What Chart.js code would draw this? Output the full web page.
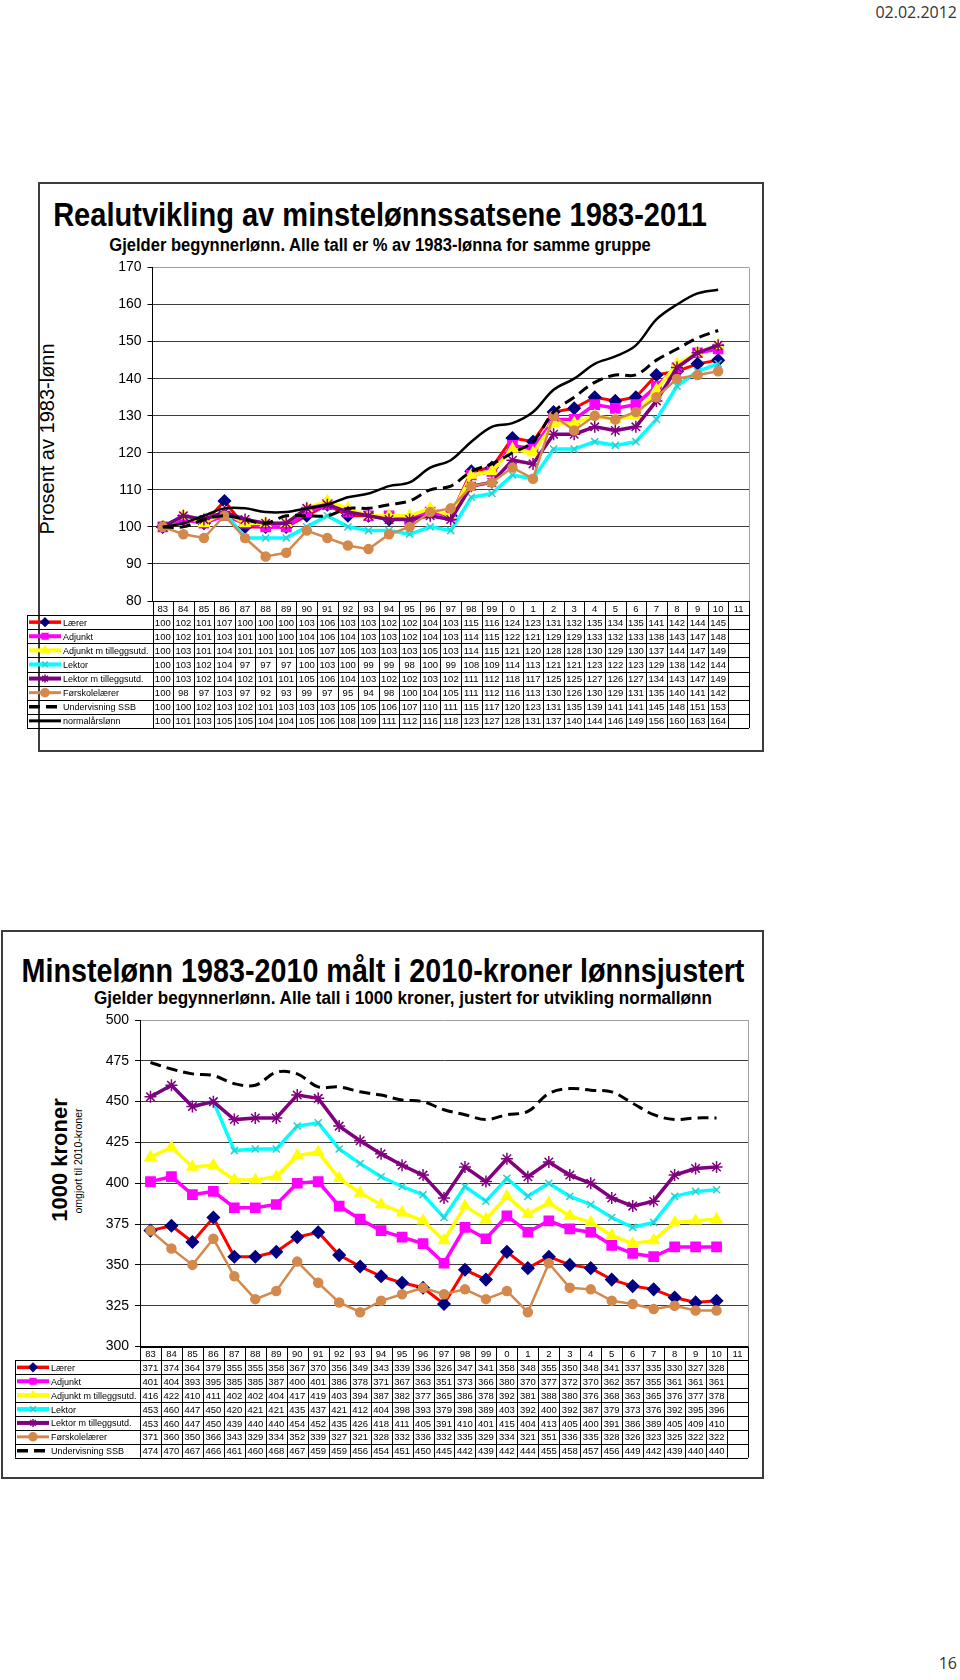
<!DOCTYPE html>
<html lang="no">
<head>
<meta charset="utf-8">
<title>Minstelønn</title>
<script src="https://cdn.jsdelivr.net/npm/chart.js@4.4.1/dist/chart.umd.min.js"></script>
<style>
  html, body { margin: 0; padding: 0; background: #fff; }
  body { position: relative; width: 960px; height: 1680px; overflow: hidden; font-family: "Liberation Sans", Arial, sans-serif; color: #000; }
  .frame { position: absolute; border: 2px solid #3c3c3c; box-sizing: border-box; }
  .title { position: absolute; white-space: nowrap; text-align: center; line-height: 1;
           font-family: "Liberation Sans Narrow", "Arial Narrow", "Liberation Sans", sans-serif; font-weight: bold; }
  .ytitle { position: absolute; white-space: nowrap; line-height: 1; transform: translate(-50%, -50%) rotate(-90deg); }
  .stamp { position: absolute; font-family: "Open Sans", sans-serif; font-size: 16px; color: #333; line-height: 1; }
  canvas { position: absolute; left: 0; }
</style>
</head>
<body>
<div class="stamp" style="right:3px; top:4px">02.02.2012</div>

<div class="frame" style="left:38px; top:182px; width:726px; height:570px"></div>
<div class="title" style="left:-100px; width:960px; top:198px; font-size:33px; transform:scaleX(0.88)">Realutvikling av minstelønnssatsene 1983-2011</div>
<div class="title" style="left:-100px; width:960px; top:236px; font-size:18px; transform:scaleX(0.92)">Gjelder begynnerlønn. Alle tall er % av 1983-lønna for samme gruppe</div>
<div class="ytitle" style="left:47px; top:439px; font-size:20px">Prosent av 1983-lønn</div>
<canvas id="chart1" width="770" height="490" style="top:250px"></canvas>

<div class="frame" style="left:1px; top:930px; width:763px; height:549px"></div>
<div class="title" style="left:-97px; width:960px; top:954px; font-size:33px; transform:scaleX(0.87)">Minstelønn 1983-2010 målt i 2010-kroner lønnsjustert</div>
<div class="title" style="left:-77px; width:960px; top:989px; font-size:18px; transform:scaleX(0.95)">Gjelder begynnerlønn. Alle tall i 1000 kroner, justert for utvikling normallønn</div>
<div class="ytitle" style="left:60px; top:1160px; font-size:22px; font-weight:bold">1000 kroner</div>
<div class="ytitle" style="left:78px; top:1161px; font-size:10.5px">omgjort til 2010-kroner</div>
<canvas id="chart2" width="770" height="470" style="top:1000px"></canvas>

<div class="stamp" style="right:3px; top:1655px">16</div>

<script>
// categories (year columns, 83 .. 11)
const years = ['83','84','85','86','87','88','89','90','91','92','93','94','95','96','97','98','99',
               '0','1','2','3','4','5','6','7','8','9','10','11'];

const seriesNames = ['Lærer', 'Adjunkt', 'Adjunkt m tilleggsutd.', 'Lektor', 'Lektor m tilleggsutd.',
                     'Førskolelærer', 'Undervisning SSB', 'normalårslønn'];

// chart 1: % of 1983 level
const laerer1       = [100,102,101,107,100,100,100,103,106,103,103,102,102,104,103,115,116,124,123,131,132,135,134,135,141,142,144,145];
const adjunkt1      = [100,102,101,103,101,100,100,104,106,104,103,103,102,104,103,114,115,122,121,129,129,133,132,133,138,143,147,148];
const adjunktT1     = [100,103,101,104,101,101,101,105,107,105,103,103,103,105,103,114,115,121,120,128,128,130,129,130,137,144,147,149];
const lektor1       = [100,103,102,104,97,97,97,100,103,100,99,99,98,100,99,108,109,114,113,121,121,123,122,123,129,138,142,144];
const lektorT1      = [100,103,102,104,102,101,101,105,106,104,103,102,102,103,102,111,112,118,117,125,125,127,126,127,134,143,147,149];
const forskole1     = [100,98,97,103,97,92,93,99,97,95,94,98,100,104,105,111,112,116,113,130,126,130,129,131,135,140,141,142];
const undervisning1 = [100,100,102,103,102,101,103,103,103,105,105,106,107,110,111,115,117,120,123,131,135,139,141,141,145,148,151,153];
const normal1       = [100,101,103,105,105,104,104,105,106,108,109,111,112,116,118,123,127,128,131,137,140,144,146,149,156,160,163,164];
const yTicks1 = [80, 90, 100, 110, 120, 130, 140, 150, 160, 170];

// chart 2: 1000 kroner, 2010 value
const laerer2       = [371,374,364,379,355,355,358,367,370,356,349,343,339,336,326,347,341,358,348,355,350,348,341,337,335,330,327,328];
const adjunkt2      = [401,404,393,395,385,385,387,400,401,386,378,371,367,363,351,373,366,380,370,377,372,370,362,357,355,361,361,361];
const adjunktT2     = [416,422,410,411,402,402,404,417,419,403,394,387,382,377,365,386,378,392,381,388,380,376,368,363,365,376,377,378];
const lektor2       = [453,460,447,450,420,421,421,435,437,421,412,404,398,393,379,398,389,403,392,400,392,387,379,373,376,392,395,396];
const lektorT2      = [453,460,447,450,439,440,440,454,452,435,426,418,411,405,391,410,401,415,404,413,405,400,391,386,389,405,409,410];
const forskole2     = [371,360,350,366,343,329,334,352,339,327,321,328,332,336,332,335,329,334,321,351,336,335,328,326,323,325,322,322];
const undervisning2 = [474,470,467,466,461,460,468,467,459,459,456,454,451,450,445,442,439,442,444,455,458,457,456,449,442,439,440,440];
const yTicks2 = [300, 325, 350, 375, 400, 425, 450, 475, 500];

// look of each series, same order as seriesNames
const looks = [
  { color: '#ff0000', width: 3,   point: 'rectRot',  radius: 6,   pointColor: '#000080' },
  { color: '#ff00ff', width: 3.5, point: 'rect',     radius: 6.5, pointColor: '#ff00ff' },
  { color: '#ffff00', width: 3.5, point: 'triangle', radius: 6,   pointColor: '#ffff00' },
  { color: '#00ffff', width: 3.5, point: 'crossRot', radius: 5,   pointColor: '#33cccc' },
  { color: '#800080', width: 3.5, point: 'star',     radius: 6,   pointColor: '#800080' },
  { color: '#d4894c', width: 2.5, point: 'circle',   radius: 4.5, pointColor: '#d4894c' },
  { color: '#000000', width: 3,   dash: [11, 6], smooth: true },
  { color: '#000000', width: 2.5, smooth: true }
];

const FONT = '"Liberation Sans", Arial, sans-serif';

// data table under the plot, columns follow the x scale
const tablePlugin = {
  id: 'dataTable',
  afterDraw(chart, args, opts) {
    const ctx = chart.ctx;
    const a = chart.chartArea;
    const x = chart.scales.x;
    const n = chart.data.labels.length;
    const cw = (a.right - a.left) / n;
    const rh = opts.rowHeight;
    const top = a.bottom;
    const sets = chart.data.datasets;
    const bottom = top + rh * (sets.length + 1);
    const px = v => Math.round(v) + 0.5;

    ctx.save();
    // plot border on the right
    ctx.strokeStyle = '#a0a0a0';
    ctx.lineWidth = 1;
    ctx.beginPath();
    ctx.moveTo(px(a.right), a.top);
    ctx.lineTo(px(a.right), a.bottom);
    ctx.stroke();

    ctx.strokeStyle = '#000';
    ctx.beginPath();
    for (let r = 0; r <= sets.length + 1; r++) {
      const y = px(top + r * rh);
      ctx.moveTo(r >= 1 ? opts.left : a.left, y);
      ctx.lineTo(a.right, y);
    }
    for (let i = 0; i <= n; i++) {
      const xx = px(a.left + i * cw);
      ctx.moveTo(xx, top);
      ctx.lineTo(xx, bottom);
    }
    ctx.moveTo(px(opts.left), top + rh);
    ctx.lineTo(px(opts.left), bottom);
    ctx.stroke();

    ctx.fillStyle = '#000';
    ctx.font = '9.5px ' + FONT;
    ctx.textAlign = 'center';
    ctx.textBaseline = 'middle';
    chart.data.labels.forEach((l, i) => ctx.fillText(l, x.getPixelForValue(i), top + rh / 2 + 1));

    sets.forEach((d, r) => {
      const yc = top + (r + 1.5) * rh + 1;
      ctx.textAlign = 'center';
      ctx.font = '9.5px ' + FONT;
      d.data.forEach((v, i) => ctx.fillText(String(v), x.getPixelForValue(i), yc));

      // legend sample
      const ys = yc - 1;
      ctx.save();
      ctx.strokeStyle = d.borderColor;
      ctx.lineWidth = Math.min(d.borderWidth + 0.5, 4);
      ctx.setLineDash(d.borderDash || []);
      ctx.beginPath();
      ctx.moveTo(opts.sampleX0, ys);
      ctx.lineTo(opts.sampleX1, ys);
      ctx.stroke();
      ctx.setLineDash([]);
      if (d.pointRadius > 0 && Chart.helpers && Chart.helpers.drawPoint) {
        ctx.fillStyle = d.pointBackgroundColor;
        ctx.strokeStyle = d.pointBorderColor;
        ctx.lineWidth = 1.5;
        Chart.helpers.drawPoint(ctx, { pointStyle: d.pointStyle, radius: 4, rotation: 0, borderWidth: 1.5 },
          (opts.sampleX0 + opts.sampleX1) / 2, ys);
      }
      ctx.restore();

      ctx.textAlign = 'left';
      ctx.font = '9px ' + FONT;
      ctx.fillText(d.label, opts.textX, yc);
    });
    ctx.restore();
  }
};

function makeChart(id, series, ticks, axisWidth, padding, table) {
  const datasets = series.map((data, i) => {
    const s = looks[i];
    return {
      label: seriesNames[i],
      data: data,
      order: -i,
      borderColor: s.color,
      backgroundColor: s.color,
      borderWidth: s.width,
      borderDash: s.dash || [],
      tension: s.smooth ? 0.35 : 0,
      pointStyle: s.point || 'circle',
      pointRadius: s.point ? s.radius : 0,
      pointHoverRadius: s.point ? s.radius : 0,
      pointBackgroundColor: s.pointColor || s.color,
      pointBorderColor: s.pointColor || s.color,
      pointBorderWidth: 1.5,
      fill: false
    };
  });
  const min = ticks[0], max = ticks[ticks.length - 1];
  return new Chart(document.getElementById(id), {
    type: 'line',
    data: { labels: years, datasets: datasets },
    plugins: [tablePlugin],
    options: {
      responsive: false,
      animation: false,
      layout: { padding: padding, autoPadding: false },
      scales: {
        x: { type: 'category', display: false, offset: true },
        y: {
          min: min, max: max,
          afterBuildTicks(scale) { scale.ticks = ticks.map(v => ({ value: v })); },
          afterFit(scale) { scale.width = axisWidth; },
          ticks: { color: '#000', padding: 6, font: { family: FONT, size: 14 } },
          grid: {
            color: c => c.tick.value === max ? '#a0a0a0' : (c.tick.value === min ? '#000' : '#3c3c3c'),
            lineWidth: 1,
            tickLength: 5,
            tickColor: '#000'
          },
          border: { color: '#000', width: 1 }
        }
      },
      plugins: {
        legend: { display: false },
        tooltip: { enabled: false },
        dataTable: table
      }
    }
  });
}

makeChart('chart1',
  [laerer1, adjunkt1, adjunktT1, lektor1, lektorT1, forskole1, undervisning1, normal1],
  yTicks1, 152.5, { top: 17.5, right: 21, bottom: 139, left: 0 },
  { rowHeight: 14.1, left: 27, sampleX0: 29, sampleX1: 61, textX: 63 });

makeChart('chart2',
  [laerer2, adjunkt2, adjunktT2, lektor2, lektorT2, forskole2, undervisning2],
  yTicks2, 140, { top: 20, right: 22, bottom: 123.5, left: 0 },
  { rowHeight: 13.9, left: 15, sampleX0: 17, sampleX1: 49, textX: 51 });
</script>
</body>
</html>
